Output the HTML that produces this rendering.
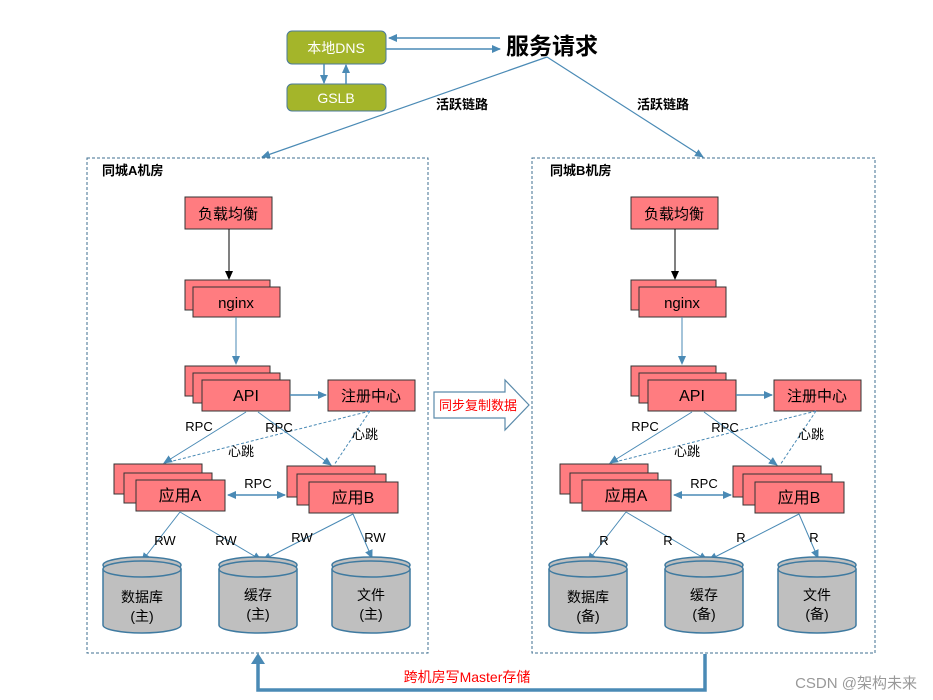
<!DOCTYPE html>
<html><head><meta charset="utf-8"><style>
body{margin:0;background:#fff}
svg{display:block}
text{font-family:"Liberation Sans","Noto Sans CJK SC",sans-serif}
</style></head><body>
<svg width="933" height="700" viewBox="0 0 933 700" xmlns="http://www.w3.org/2000/svg">
<defs>
<marker id="ar" markerWidth="10" markerHeight="10" refX="8" refY="4" orient="auto" markerUnits="userSpaceOnUse"><path d="M0,0 L9,4 L0,8 z" fill="#4a8ab5"/></marker>
<marker id="arl" markerWidth="10" markerHeight="10" refX="1" refY="4" orient="auto" markerUnits="userSpaceOnUse"><path d="M9,0 L0,4 L9,8 z" fill="#4a8ab5"/></marker>
<marker id="ak" markerWidth="10" markerHeight="10" refX="8" refY="4" orient="auto" markerUnits="userSpaceOnUse"><path d="M0,0 L9,4 L0,8 z" fill="#000"/></marker>
<g id="cyl">
<path d="M-39,8 L-39,64 A39,8 0 0 0 39,64 L39,8" fill="#bfbfbf" stroke="#3f7aa0" stroke-width="1.5"/>
<ellipse cx="0" cy="4" rx="39" ry="8" fill="#bfbfbf" stroke="#3f7aa0" stroke-width="1.5"/>
<ellipse cx="0" cy="8" rx="39" ry="8" fill="#bfbfbf" stroke="#3f7aa0" stroke-width="1.5"/>
</g>
</defs>

<!-- top -->
<rect x="287" y="31" width="99" height="33" rx="5" fill="#a4b52a" stroke="#4a7a9a"/>
<text x="336" y="53" font-size="14" fill="#fff" text-anchor="middle">本地DNS</text>
<rect x="287" y="84" width="99" height="27" rx="5" fill="#a4b52a" stroke="#4a7a9a"/>
<text x="336" y="103" font-size="14" fill="#fff" text-anchor="middle">GSLB</text>
<line x1="324" y1="64" x2="324" y2="83" stroke="#4a8ab5" stroke-width="1.5" marker-end="url(#ar)"/>
<line x1="346" y1="84" x2="346" y2="65" stroke="#4a8ab5" stroke-width="1.5" marker-end="url(#ar)"/>
<line x1="500" y1="38" x2="389" y2="38" stroke="#4a8ab5" stroke-width="1.5" marker-end="url(#ar)"/>
<line x1="386" y1="49" x2="500" y2="49" stroke="#4a8ab5" stroke-width="1.5" marker-end="url(#ar)"/>
<text x="552" y="54" font-size="23" font-weight="bold" text-anchor="middle">服务请求</text>
<line x1="547" y1="57" x2="262" y2="157" stroke="#4a8ab5" stroke-width="1.2" marker-end="url(#ar)"/>
<line x1="547" y1="57" x2="703" y2="157" stroke="#4a8ab5" stroke-width="1.2" marker-end="url(#ar)"/>
<text x="462" y="109" font-size="13" font-weight="bold" text-anchor="middle">活跃链路</text>
<text x="663" y="109" font-size="13" font-weight="bold" text-anchor="middle">活跃链路</text>

<!-- containers -->
<rect x="87" y="158" width="341" height="495" fill="none" stroke="#3f6f90" stroke-dasharray="3,2"/>
<rect x="532" y="158" width="343" height="495" fill="none" stroke="#3f6f90" stroke-dasharray="3,2"/>
<text x="102" y="175" font-size="13" font-weight="bold">同城A机房</text>
<text x="550" y="175" font-size="13" font-weight="bold">同城B机房</text>

<g id="room" stroke-width="1">
<rect x="185" y="197" width="87" height="32" fill="#ff7c80" stroke="#333"/>
<text x="228" y="219" font-size="15" text-anchor="middle">负载均衡</text>
<line x1="229" y1="229" x2="229" y2="279" stroke="#000" marker-end="url(#ak)"/>
<rect x="185" y="280" width="85" height="30" fill="#ff7c80" stroke="#333"/>
<rect x="193" y="287" width="87" height="30" fill="#ff7c80" stroke="#333"/>
<text x="236" y="308" font-size="15" text-anchor="middle">nginx</text>
<line x1="236" y1="317" x2="236" y2="364" stroke="#4a8ab5" marker-end="url(#ar)"/>
<rect x="185" y="366" width="85" height="30" fill="#ff7c80" stroke="#333"/>
<rect x="193" y="373" width="87" height="30" fill="#ff7c80" stroke="#333"/>
<rect x="202" y="380" width="88" height="31" fill="#ff7c80" stroke="#333"/>
<text x="246" y="401" font-size="16" text-anchor="middle">API</text>
<rect x="328" y="380" width="87" height="31" fill="#ff7c80" stroke="#333"/>
<text x="371" y="401" font-size="15" text-anchor="middle">注册中心</text>
<line x1="290" y1="395" x2="326" y2="395" stroke="#4a8ab5" stroke-width="1.5" marker-end="url(#ar)"/>
<line x1="246" y1="412" x2="164" y2="463" stroke="#4a8ab5" marker-end="url(#ar)"/>
<line x1="258" y1="412" x2="331" y2="465" stroke="#4a8ab5" marker-end="url(#ar)"/>
<line x1="370" y1="411" x2="165" y2="463" stroke="#4a8ab5" stroke-dasharray="3,2"/>
<line x1="370" y1="411" x2="334" y2="465" stroke="#4a8ab5" stroke-dasharray="3,2"/>
<text x="199" y="431" font-size="13" text-anchor="middle">RPC</text>
<text x="279" y="432" font-size="13" text-anchor="middle">RPC</text>
<text x="241" y="456" font-size="13" text-anchor="middle">心跳</text>
<text x="365" y="439" font-size="13" text-anchor="middle">心跳</text>
<rect x="114" y="464" width="88" height="30" fill="#ff7c80" stroke="#333"/>
<rect x="124" y="473" width="88" height="30" fill="#ff7c80" stroke="#333"/>
<rect x="136" y="480" width="89" height="31" fill="#ff7c80" stroke="#333"/>
<text x="180" y="501" font-size="16" text-anchor="middle">应用A</text>
<rect x="287" y="466" width="88" height="31" fill="#ff7c80" stroke="#333"/>
<rect x="297" y="474" width="89" height="31" fill="#ff7c80" stroke="#333"/>
<rect x="309" y="482" width="89" height="31" fill="#ff7c80" stroke="#333"/>
<text x="353" y="503" font-size="16" text-anchor="middle">应用B</text>
<line x1="228" y1="495" x2="285" y2="495" stroke="#4a8ab5" stroke-width="1.5" marker-start="url(#arl)" marker-end="url(#ar)"/>
<text x="258" y="488" font-size="13" text-anchor="middle">RPC</text>
<line x1="180" y1="512" x2="142" y2="561" stroke="#4a8ab5" marker-end="url(#ar)"/>
<line x1="180" y1="512" x2="261" y2="560" stroke="#4a8ab5" marker-end="url(#ar)"/>
<line x1="353" y1="514" x2="263" y2="560" stroke="#4a8ab5" marker-end="url(#ar)"/>
<line x1="353" y1="514" x2="372" y2="558" stroke="#4a8ab5" marker-end="url(#ar)"/>
<use href="#cyl" x="142" y="561"/>
<use href="#cyl" x="258" y="561"/>
<use href="#cyl" x="371" y="561"/>
</g>
<g font-size="13" text-anchor="middle">
<text x="165" y="545">RW</text><text x="226" y="545">RW</text><text x="302" y="542">RW</text><text x="375" y="542">RW</text>
<text x="142" y="602" font-size="14">数据库</text><text x="142" y="621" font-size="14">(主)</text>
<text x="258" y="600" font-size="14">缓存</text><text x="258" y="619" font-size="14">(主)</text>
<text x="371" y="600" font-size="14">文件</text><text x="371" y="619" font-size="14">(主)</text>
</g>
<use href="#room" x="446" y="0"/>
<g font-size="13" text-anchor="middle">
<text x="604" y="545">R</text><text x="668" y="545">R</text><text x="741" y="542">R</text><text x="814" y="542">R</text>
<text x="588" y="602" font-size="14">数据库</text><text x="588" y="621" font-size="14">(备)</text>
<text x="704" y="600" font-size="14">缓存</text><text x="704" y="619" font-size="14">(备)</text>
<text x="817" y="600" font-size="14">文件</text><text x="817" y="619" font-size="14">(备)</text>
</g>

<!-- sync arrow -->
<path d="M434,392 L505,392 L505,380 L529,405 L505,430 L505,418 L434,418 Z" fill="#fff" stroke="#5a8aaa" stroke-width="1.2"/>
<text x="478" y="410" font-size="13" fill="#ff0000" text-anchor="middle">同步复制数据</text>

<!-- bottom -->
<path d="M705,654 L705,690 L258,690 L258,662" fill="none" stroke="#4a8ab5" stroke-width="3.5"/>
<path d="M251,664 L258,653 L265,664 Z" fill="#4a8ab5"/>
<text x="467" y="682" font-size="14" fill="#ff0000" text-anchor="middle">跨机房写Master存储</text>
<text x="917" y="688" font-size="15" fill="#999" text-anchor="end">CSDN @架构未来</text>
</svg>
</body></html>
